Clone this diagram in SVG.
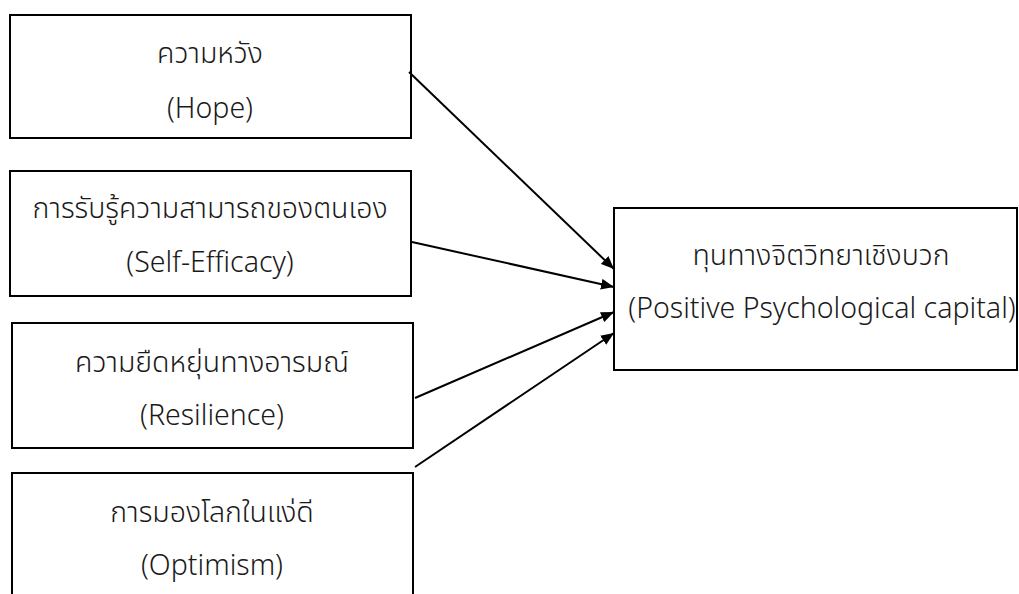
<svg xmlns="http://www.w3.org/2000/svg" width="1019" height="594" viewBox="0 0 1019 594">
  <style>
    .box { fill: #ffffff; stroke: #000000; stroke-width: 2; }
    .lbl { font-family: "Noto Sans", "Noto Sans Thai", "DejaVu Sans", sans-serif; font-size: 28.5px; fill: #1a1a1a; text-anchor: middle; font-weight: 300; }
    .edge { stroke: #000000; stroke-width: 2; fill: none; marker-end: url(#arrow); }
  </style>
  <defs>
    <marker id="arrow" viewBox="0 0 12 10" refX="12" refY="5" markerWidth="13" markerHeight="11" markerUnits="userSpaceOnUse" orient="auto">
      <path d="M0,0 L12,5 L0,10 z" fill="#000000"/>
    </marker>
  </defs>
  <rect width="1019" height="594" fill="#ffffff"/>

  <g id="node-hope">
    <rect class="box" x="10" y="15" width="401" height="123"/>
    <text class="lbl" x="210" y="63">ความหวัง</text>
    <text class="lbl" x="210" y="118">(Hope)</text>
  </g>
  <g id="node-self-efficacy">
    <rect class="box" x="10" y="171" width="401" height="125"/>
    <text class="lbl" x="210" y="218">การรับรู้ความสามารถของตนเอง</text>
    <text class="lbl" x="210" y="272">(Self-Efficacy)</text>
  </g>
  <g id="node-resilience">
    <rect class="box" x="12" y="323" width="401" height="125"/>
    <text class="lbl" x="212" y="372">ความยืดหยุ่นทางอารมณ์</text>
    <text class="lbl" x="212" y="425">(Resilience)</text>
  </g>
  <g id="node-optimism">
    <rect class="box" x="12" y="473" width="401" height="125"/>
    <text class="lbl" x="212" y="522">การมองโลกในแง่ดี</text>
    <text class="lbl" x="212" y="575">(Optimism)</text>
  </g>
  <g id="node-psycap">
    <rect class="box" x="614" y="208" width="403" height="162"/>
    <text class="lbl" x="821" y="265">ทุนทางจิตวิทยาเชิงบวก</text>
    <text class="lbl" x="822" y="318">(Positive Psychological capital)</text>
  </g>

  <g id="connectors">
    <line class="edge" x1="409" y1="72" x2="614" y2="269"/>
    <line class="edge" x1="412" y1="242" x2="614" y2="287"/>
    <line class="edge" x1="415" y1="398" x2="614" y2="312"/>
    <line class="edge" x1="415" y1="467" x2="614" y2="333"/>
  </g>
</svg>
